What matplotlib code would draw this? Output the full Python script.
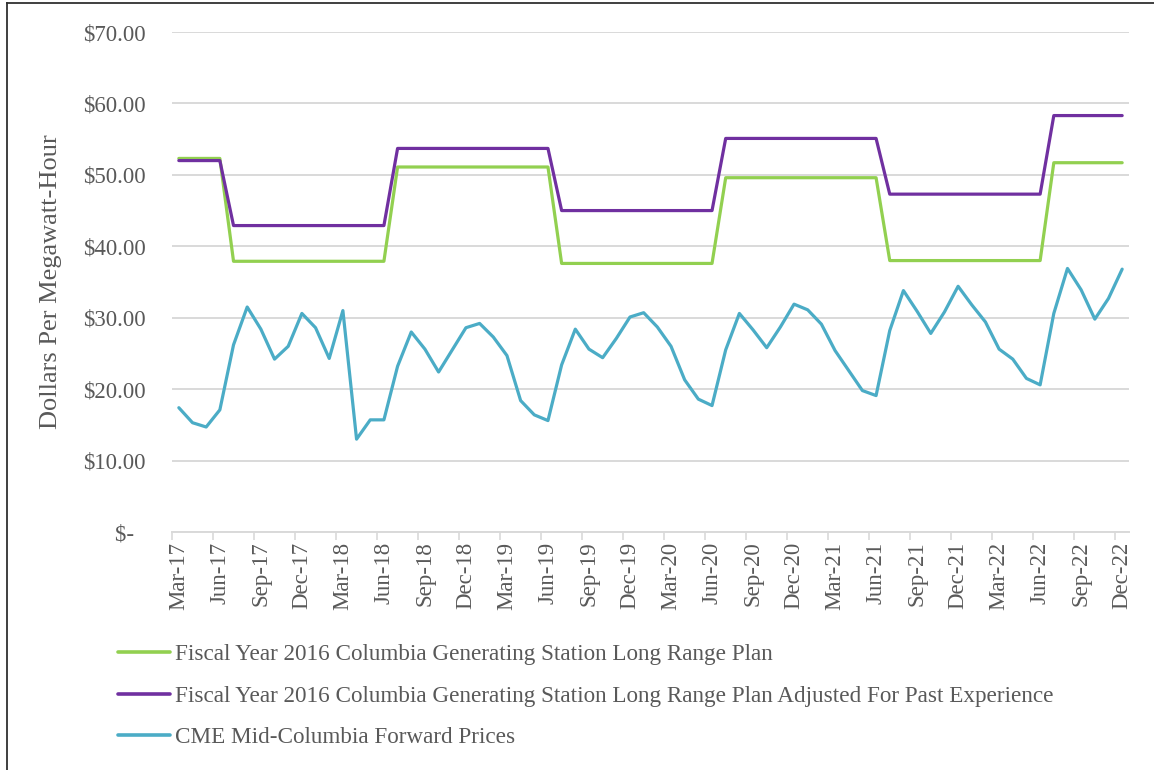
import matplotlib.pyplot as plt
import numpy as np
import pandas as pd
from matplotlib.lines import Line2D

plt.rcParams['font.family'] = ['Liberation Serif', 'DejaVu Serif']

# Monthly categories, Mar-2017 through Dec-2022
months = pd.date_range('2017-03-01', '2022-12-01', freq='MS')

# Fiscal Year 2016 CGS long range plan ($/MWh), Mar-17 .. Dec-22
lrp = [52.3, 52.3, 52.3, 52.3, 37.9, 37.9, 37.9, 37.9, 37.9, 37.9, 37.9, 37.9,
       37.9, 37.9, 37.9, 37.9, 51.1, 51.1, 51.1, 51.1, 51.1, 51.1, 51.1, 51.1,
       51.1, 51.1, 51.1, 51.1, 37.6, 37.6, 37.6, 37.6, 37.6, 37.6, 37.6, 37.6,
       37.6, 37.6, 37.6, 37.6, 49.6, 49.6, 49.6, 49.6, 49.6, 49.6, 49.6, 49.6,
       49.6, 49.6, 49.6, 49.6, 38.0, 38.0, 38.0, 38.0, 38.0, 38.0, 38.0, 38.0,
       38.0, 38.0, 38.0, 38.0, 51.7, 51.7, 51.7, 51.7, 51.7, 51.7]

# Same plan adjusted for past experience
lrp_adj = [52.0, 52.0, 52.0, 52.0, 42.9, 42.9, 42.9, 42.9, 42.9, 42.9, 42.9, 42.9,
           42.9, 42.9, 42.9, 42.9, 53.7, 53.7, 53.7, 53.7, 53.7, 53.7, 53.7, 53.7,
           53.7, 53.7, 53.7, 53.7, 45.0, 45.0, 45.0, 45.0, 45.0, 45.0, 45.0, 45.0,
           45.0, 45.0, 45.0, 45.0, 55.1, 55.1, 55.1, 55.1, 55.1, 55.1, 55.1, 55.1,
           55.1, 55.1, 55.1, 55.1, 47.3, 47.3, 47.3, 47.3, 47.3, 47.3, 47.3, 47.3,
           47.3, 47.3, 47.3, 47.3, 58.3, 58.3, 58.3, 58.3, 58.3, 58.3]

# CME Mid-Columbia forward prices
cme = [17.4, 15.3, 14.7, 17.1, 26.2, 31.5, 28.4, 24.2, 26.0, 30.6, 28.6, 24.3,
       31.0, 13.0, 15.7, 15.7, 23.2, 28.0, 25.6, 22.4, 25.5, 28.6, 29.2, 27.3,
       24.7, 18.4, 16.4, 15.6, 23.4, 28.4, 25.6, 24.4, 27.1, 30.1, 30.7, 28.7,
       26.0, 21.3, 18.6, 17.7, 25.5, 30.6, 28.3, 25.8, 28.7, 31.9, 31.1, 29.1,
       25.4, 22.6, 19.8, 19.1, 28.2, 33.8, 30.9, 27.8, 30.8, 34.4, 31.8, 29.4,
       25.6, 24.2, 21.5, 20.6, 30.6, 36.9, 33.9, 29.8, 32.7, 36.8]

series_names = ['Fiscal Year 2016 Columbia Generating Station Long Range Plan',
                'Fiscal Year 2016 Columbia Generating Station Long Range Plan Adjusted For Past Experience',
                'CME Mid-Columbia Forward Prices']
colors = ['#92D050', '#7030A0', '#4BACC6']
text_color = '#595959'
grid_color = '#D9D9D9'

fig = plt.figure(figsize=(11.54, 7.70), dpi=100)
ax = fig.add_axes([172 / 1154, 1 - 532 / 770, (1129 - 172) / 1154, 500 / 770])

x = np.arange(len(months))
for vals, name, c in zip([lrp, lrp_adj, cme], series_names, colors):
    ax.plot(x, vals, color=c, linewidth=2.3, label=name,
            solid_joinstyle='round', solid_capstyle='round', zorder=3)

ax.set_xlim(-0.5, len(months) - 0.5)
ax.set_ylim(0, 70)

# y axis: accounting style dollar labels
yticks = np.arange(0, 71, 10)
ax.set_yticks(yticks)
ax.set_yticklabels(['$-  '] + [f'${v:.2f}' for v in yticks[1:]])
ax.tick_params(axis='y', length=0, pad=19, labelsize=16.5, labelcolor=text_color)
ax.yaxis.grid(True, color=grid_color, linewidth=1.4)
ax.set_axisbelow(True)

# x axis: labels every third month, tick marks on category boundaries
lab_idx = x[::3]
ax.set_xticks(lab_idx)
ax.set_xticklabels([months[i].strftime('%b-%y') for i in lab_idx], rotation=90)
ax.tick_params(axis='x', which='major', length=0, pad=7, labelsize=16.5,
               labelcolor=text_color)
ax.set_xticks(lab_idx - 0.5, minor=True)
ax.tick_params(axis='x', which='minor', length=6, width=1.2, color=grid_color,
               direction='out')

for s in ['top', 'right', 'left']:
    ax.spines[s].set_visible(False)
ax.spines['bottom'].set_color(grid_color)
ax.spines['bottom'].set_linewidth(1.4)

ax.set_ylabel('Dollars Per Megawatt-Hour', fontsize=19, color=text_color, labelpad=15)

leg = ax.legend(loc='upper left', bbox_to_anchor=(97 / 1154, 1 - 623 / 770),
                bbox_transform=fig.transFigure, frameon=False, fontsize=16.7,
                handlelength=2.25, handletextpad=0.2, labelspacing=0.88)
for t in leg.get_texts():
    t.set_color(text_color)
for h in leg.get_lines():
    h.set_linewidth(2.6)

# outer frame (top and left edges only)
fig.add_artist(Line2D([7 / 1154, 1.0], [1 - 3 / 770, 1 - 3 / 770],
                      color='#303030', linewidth=1.3, transform=fig.transFigure))
fig.add_artist(Line2D([7 / 1154, 7 / 1154], [0, 1 - 3 / 770],
                      color='#303030', linewidth=1.3, transform=fig.transFigure))

fig.savefig('out.png', dpi=100, facecolor='white')
